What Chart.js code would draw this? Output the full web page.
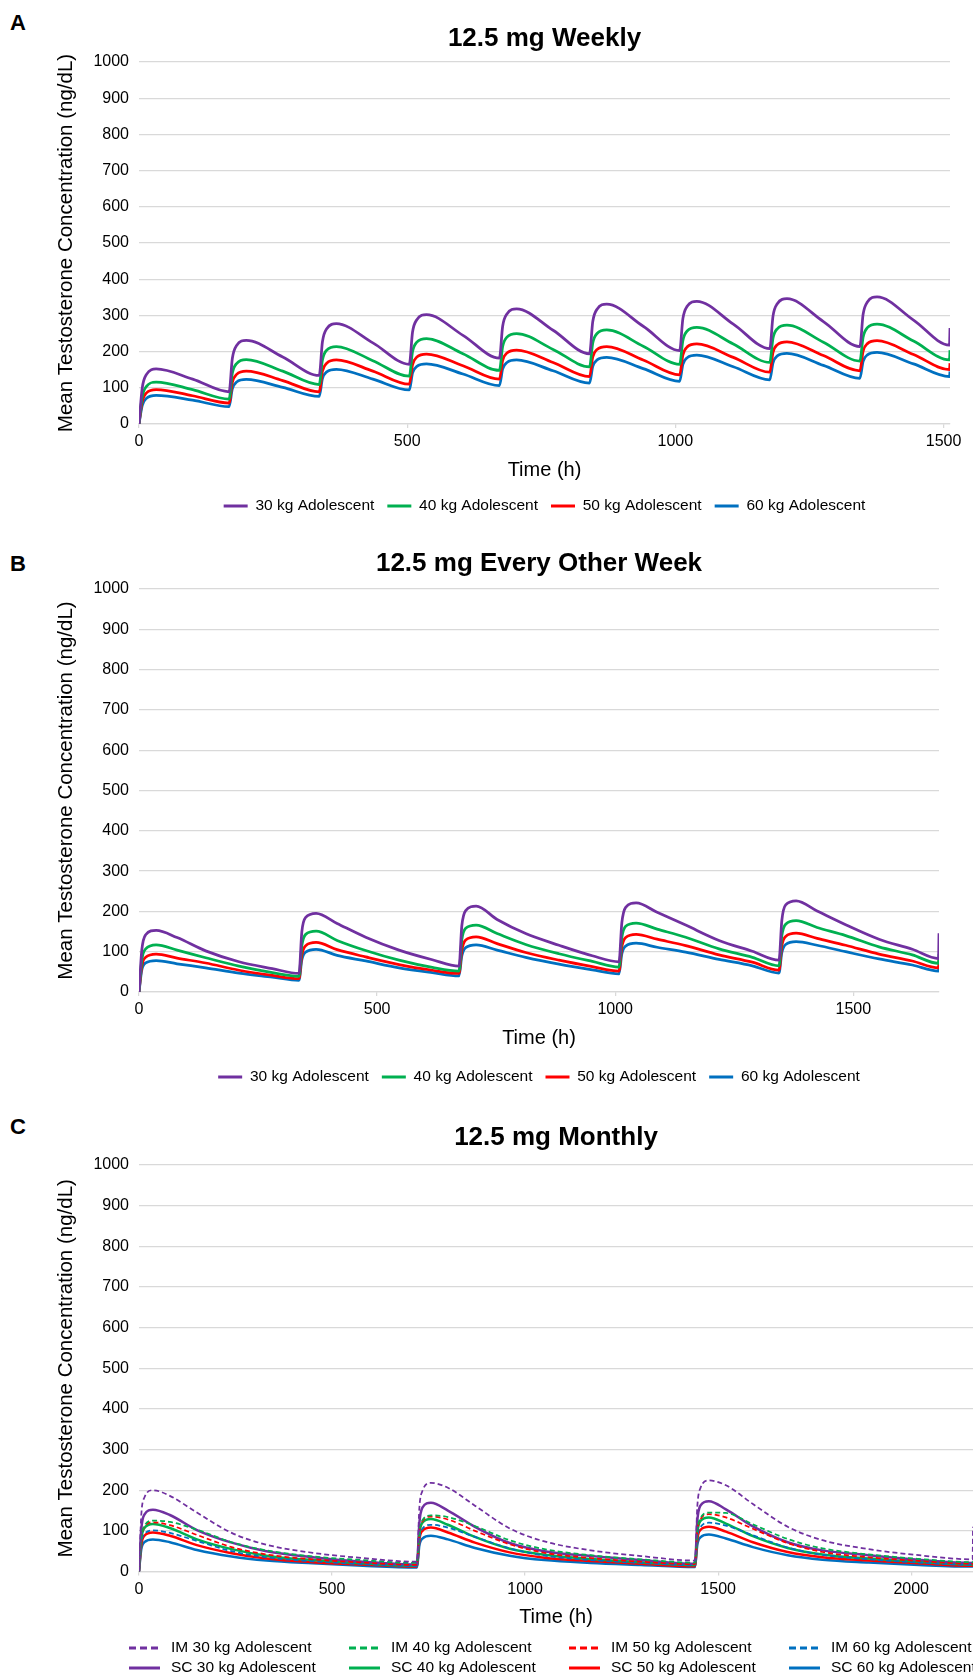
<!DOCTYPE html>
<html lang="en">
<head>
<meta charset="UTF-8">
<title>Mean Testosterone Concentration - 12.5 mg</title>
<script src="https://cdn.jsdelivr.net/npm/chart.js@4.4.1/dist/chart.umd.min.js"></script>
<style>
    body { margin: 0; background: #fff; width: 973px; height: 1677px; overflow: hidden; position: relative;
           font-family: "Liberation Sans", Arial, sans-serif; }
    .panel { position: absolute; left: 0; width: 973px; }
    .letter { position: absolute; left: 10px; font-weight: bold; font-size: 22px; line-height: 22px; color: #000; }
</style>
</head>
<body>
<div class="letter" style="top:12px">A</div>
<div class="panel" style="top:0px;height:530px"><canvas id="chartA"></canvas></div>
<div class="letter" style="top:553px">B</div>
<div class="panel" style="top:530px;height:570px"><canvas id="chartB"></canvas></div>
<div class="letter" style="top:1116px">C</div>
<div class="panel" style="top:1100px;height:577px"><canvas id="chartC"></canvas></div>
<script>
// tick labels
const yTickValues = [0, 100, 200, 300, 400, 500, 600, 700, 800, 900, 1000];
const xTicksA = [0, 500, 1000, 1500];
const xTicksB = [0, 500, 1000, 1500];
const xTicksC = [0, 500, 1000, 1500, 2000];

const weightLabels = ['30 kg Adolescent', '40 kg Adolescent', '50 kg Adolescent', '60 kg Adolescent'];
const lineColors = ['#7030A0', '#00B050', '#FF0000', '#0070C0'];

// A: 12.5 mg weekly (time in h)
const timeA = [0,6,14,32,100, 168,174,182,200,268, 336,342,350,368,436, 504,510,518,536,604,
               672,678,686,704,772, 840,846,854,872,940, 1008,1014,1022,1040,1108,
               1176,1182,1190,1208,1276, 1344,1350,1358,1376,1444, 1511,1512];
const weekly30 = [0,99,137,152,124, 89,181,217,231,185, 134,227,263,277,224, 165,254,288,302,245,
                  182,270,304,318,259, 194,283,317,331,270, 203,291,325,339,276,
                  208,298,332,346,283, 214,303,337,351,287, 218,265];
const weekly40 = [0,75,104,116,95, 69,140,167,178,146, 109,177,204,214,175, 132,200,226,236,194,
                  148,214,240,250,206, 158,224,250,260,215, 165,231,257,267,221,
                  170,237,263,273,226, 174,240,266,276,229, 177,204];
const weekly50 = [0,62,86,95,78, 58,115,137,146,120, 89,146,168,177,146, 110,164,185,193,161,
                  124,176,196,204,170, 131,185,206,214,177, 136,191,213,221,184,
                  143,198,219,227,189, 147,201,222,230,192, 150,168];
const weekly60 = [0,51,71,79,66, 48,97,116,123,101, 76,125,144,151,124, 94,141,159,166,138,
                  106,152,170,177,147, 113,159,177,184,153, 118,165,183,190,158,
                  122,169,188,195,162, 126,173,191,198,166, 131,145];

// B: 12.5 mg every other week
const timeB = [0,6,14,36,80,140,210,280, 336,342,350,372,416,476,546,616,
               672,678,686,708,752,812,882,952, 1008,1014,1022,1044,1088,1148,1218,1288,
               1344,1350,1358,1380,1424,1484,1554,1624, 1679,1680];
const biweekly30 = [0,105,142,153,135,102,75,58, 46,150,185,195,170,136,104,80,
                    64,165,202,213,180,145,116,90, 75,172,210,221,198,166,128,101,
                    79,178,216,226,201,167,131,106, 83,146];
const biweekly40 = [0,80,107,117,104,85,64,48, 39,115,143,151,128,103,79,61,
                    52,130,158,166,145,118,95,76, 62,135,163,171,156,136,107,86,
                    65,140,168,177,160,140,112,92, 71,95];
const biweekly50 = [0,65,86,94,84,72,54,41, 33,92,115,123,105,87,68,54,
                    46,104,129,137,120,98,79,63, 52,112,135,143,131,115,92,74,
                    54,115,138,146,133,116,94,77, 60,80];
const biweekly60 = [0,55,72,78,70,60,47,37, 29,80,99,106,91,77,60,48,
                    40,90,110,117,104,86,69,55, 45,95,114,121,111,99,81,65,
                    47,98,118,125,116,100,82,67, 52,65];

// C: 12.5 mg monthly, IM and SC
const timeC = [0,6,14,36,80,150,240,330,450,580, 720,726,734,756,800,870,960,1050,1170,1300,
               1440,1446,1454,1476,1520,1590,1680,1770,1890,2020, 2159,2160];
const monthlyIM30 = [0,140,182,200,186,145,95,66,46,33, 24,155,198,218,206,162,106,74,52,38,
                     27,160,205,224,212,166,110,77,55,40, 30,110];
const monthlyIM40 = [0,84,112,125,122,103,72,52,37,28, 21,97,126,138,134,112,77,55,40,30,
                     22,102,131,145,144,116,80,57,42,31, 23,23];
const monthlyIM50 = [0,82,110,121,114,90,60,42,30,22, 16,95,123,135,128,100,67,46,33,24,
                     18,100,128,141,133,105,70,48,35,26, 19,19];
const monthlyIM60 = [0,70,92,101,95,75,50,35,25,18, 13,82,105,115,108,85,57,39,28,21,
                     15,86,109,120,113,89,59,41,30,22, 16,16];
const monthlySC30 = [0,105,140,152,139,102,71,50,35,24, 17,118,157,169,150,110,70,50,38,28,
                     19,125,162,173,153,111,72,52,40,29, 21,21];
const monthlySC40 = [0,80,107,117,107,79,55,39,28,20, 14,92,120,129,115,85,56,41,31,23,
                     16,95,124,133,118,87,58,42,32,24, 17,17];
const monthlySC50 = [0,66,88,96,88,65,45,32,23,17, 12,78,100,108,96,71,47,34,26,19,
                     13,80,102,110,98,72,48,35,27,20, 14,14];
const monthlySC60 = [0,55,72,79,72,53,37,27,20,14, 10,63,81,88,79,58,39,28,21,16,
                     11,66,84,91,81,60,40,29,22,16, 12,12];

Chart.defaults.font.family = '"Liberation Sans", Arial, sans-serif';
Chart.defaults.color = '#000';

function f_series(p_times, p_values, p_label, p_color, p_dash, p_width) {
    return {
        label: p_label,
        data: p_times.map((t, i) => ({ x: t, y: p_values[i] })),
        borderColor: p_color,
        backgroundColor: p_color,
        borderWidth: p_width,
        borderDash: p_dash,
        pointRadius: 0,
        pointBorderWidth: 3,
        cubicInterpolationMode: 'monotone',
        fill: false
    };
}

// two-row legend of chart C (columns line up like the original)
const gridLegend = {
    id: 'gridLegend',
    afterDraw(chart, args, opts) {
        if (!opts.show) return;
        const ctx = chart.ctx;
        ctx.save();
        ctx.font = '15.5px "Liberation Sans", Arial, sans-serif';
        ctx.textBaseline = 'middle';
        ctx.textAlign = 'left';
        chart.data.datasets.forEach((ds, i) => {
            const col = i % opts.cols;
            const row = Math.floor(i / opts.cols);
            const x = opts.left + col * opts.colWidth;
            const y = chart.chartArea.bottom + opts.top + row * opts.rowHeight;
            ctx.beginPath();
            ctx.setLineDash(ds.borderDash.length ? [7, 4] : []);
            ctx.lineWidth = 3;
            ctx.strokeStyle = ds.borderColor;
            ctx.moveTo(x, y);
            ctx.lineTo(x + 31, y);
            ctx.stroke();
            ctx.setLineDash([]);
            ctx.fillStyle = '#000';
            ctx.fillText(ds.label, x + 42, y);
        });
        ctx.restore();
    }
};

function f_makeChart(p_id, o) {
    return new Chart(document.getElementById(p_id), {
        type: 'line',
        data: { datasets: o.datasets },
        options: {
            responsive: true,
            maintainAspectRatio: false,
            animation: false,
            events: [],
            layout: { padding: { left: 42, right: o.padRight, top: 0, bottom: o.padBottom } },
            plugins: {
                title: {
                    display: true, text: o.title, fullSize: false, color: '#000',
                    font: { size: 26, weight: 'bold', lineHeight: 1.2 },
                    padding: o.titlePad
                },
                legend: o.legend ? {
                    display: true, position: 'bottom', fullSize: false,
                    labels: { usePointStyle: true, pointStyle: 'line', pointStyleWidth: 24,
                              padding: 13, color: '#000', font: { size: 15.5 } }
                } : { display: false },
                tooltip: { enabled: false },
                gridLegend: o.gridLegend || { show: false }
            },
            scales: {
                x: {
                    type: 'linear', min: 0, max: o.xMax,
                    afterBuildTicks: axis => { axis.ticks = o.xTicks.map(v => ({ value: v })); },
                    ticks: { padding: 4.4, font: { size: 16 }, color: '#000', callback: v => v },
                    grid: { drawOnChartArea: false, drawTicks: true, tickLength: 4, color: '#d9d9d9', lineWidth: 1.25 },
                    border: { display: true, color: '#d9d9d9', width: 1.25 },
                    title: { display: true, text: 'Time (h)', color: '#000',
                             font: { size: 20, lineHeight: 1.2 }, padding: { top: 2, bottom: o.xTitleBottom } }
                },
                y: {
                    min: 0, max: 1000,
                    afterBuildTicks: axis => { axis.ticks = yTickValues.map(v => ({ value: v })); },
                    ticks: { padding: 10, font: { size: 16 }, color: '#000', callback: v => v },
                    grid: { drawTicks: false, color: '#d9d9d9', lineWidth: 1.25 },
                    border: { display: false },
                    title: { display: true, text: 'Mean Testosterone Concentration (ng/dL)', color: '#000',
                             font: { size: 20.5, lineHeight: 1.2 }, padding: { top: 11.7, bottom: 5.1 } }
                }
            }
        },
        plugins: [gridLegend]
    });
}

const weeklyValues = [weekly30, weekly40, weekly50, weekly60];
const chartA = f_makeChart('chartA', {
    title: '12.5 mg Weekly',
    xMax: 1512, xTicks: xTicksA,
    datasets: weeklyValues.map((v, i) => f_series(timeA, v, weightLabels[i], lineColors[i], [], 2.75)),
    padRight: 23, padBottom: 6.25,
    titlePad: { top: 23.4, bottom: 7.4 }, xTitleBottom: 3.25,
    legend: true
});

const biweeklyValues = [biweekly30, biweekly40, biweekly50, biweekly60];
const chartB = f_makeChart('chartB', {
    title: '12.5 mg Every Other Week',
    xMax: 1680, xTicks: xTicksB,
    datasets: biweeklyValues.map((v, i) => f_series(timeB, v, weightLabels[i], lineColors[i], [], 2.75)),
    padRight: 34, padBottom: 5.25,
    titlePad: { top: 18.4, bottom: 9.4 }, xTitleBottom: 6.25,
    legend: true
});

const imValues = [monthlyIM30, monthlyIM40, monthlyIM50, monthlyIM60];
const scValues = [monthlySC30, monthlySC40, monthlySC50, monthlySC60];
const monthlySets = imValues.map((v, i) => f_series(timeC, v, 'IM ' + weightLabels[i], lineColors[i], [5, 3], 1.75))
    .concat(scValues.map((v, i) => f_series(timeC, v, 'SC ' + weightLabels[i], lineColors[i], [], 2.5)));
const chartC = f_makeChart('chartC', {
    title: '12.5 mg Monthly',
    xMax: 2160, xTicks: xTicksC,
    datasets: monthlySets,
    padRight: 0, padBottom: 44.25,
    titlePad: { top: 22.4, bottom: 11.4 }, xTitleBottom: 3.25,
    legend: false,
    gridLegend: { show: true, cols: 4, left: 129, colWidth: 220, top: 76.5, rowHeight: 20 }
});
</script>
</body>
</html>
